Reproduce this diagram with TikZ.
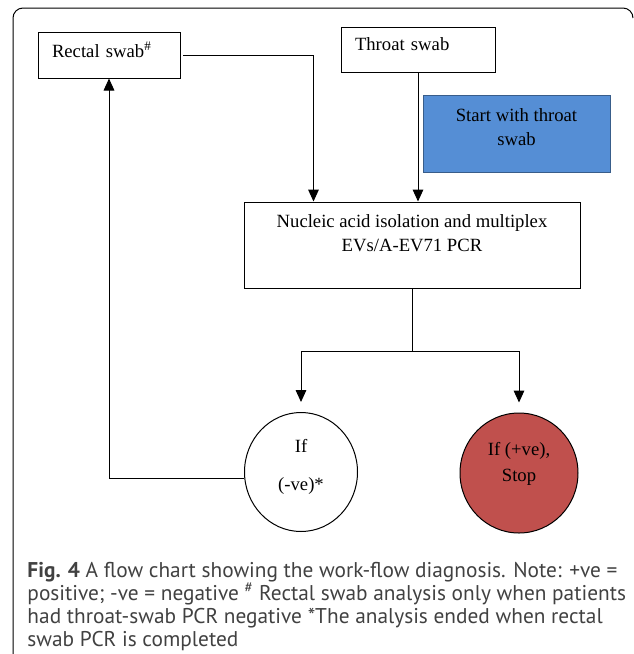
\documentclass[tikz,border=0pt]{standalone}
\usepackage{fontspec}
\setmainfont{Liberation Serif}
\newfontfamily\captionfont{PT Sans}
\usetikzlibrary{arrows.meta,shapes.geometric}

\definecolor{startblue}{RGB}{85,142,213}
\definecolor{startborder}{RGB}{56,93,138}
\definecolor{stopred}{RGB}{192,80,77}
\definecolor{captiongray}{RGB}{65,65,65}

\tikzset{every picture/.style={line width=0.75pt}}
\tikzset{
  flowtext/.style={font=\fontsize{14}{18}\selectfont, inner sep=0pt},
  swabbox/.style={flowtext, draw, rectangle, align=left, inner xsep=10.5pt, text depth=7.5pt},
  stepbox/.style={flowtext, draw, rectangle, align=center},
  resultshape/.style={flowtext, draw, ellipse, align=center},
  flowarrow/.style={-{Triangle[length=9pt,width=8pt]}},
  captiontext/.style={font=\captionfont\fontsize{16}{17.3}\selectfont, text=captiongray, align=left, inner sep=0pt},
}

\begin{document}
\begin{tikzpicture}[x=0.75pt,y=0.75pt,yscale=-1,xscale=1]
            \useasboundingbox (0,0) rectangle (634,654);

            %Shape: Frame [id:frame] 
            \draw  [rounded corners=7.5pt] (13,654) -- (13,8) -- (633,8) -- (633,18) ;

            %Shape: Rectangle [id:rectal] 
            \node [swabbox, minimum width=106.5pt, minimum height=34.5pt, text width=85.5pt] (rectal) at (109,55) {Rectal swab\textsuperscript{\#}};
            %Shape: Rectangle [id:throat] 
            \node [swabbox, minimum width=115.5pt, minimum height=33.75pt, text width=94.5pt] (throat) at (418,49.5) {Throat swab};
            %Shape: Rectangle [id:start] 
            \node [stepbox, draw=startborder, fill=startblue, minimum width=140.25pt, minimum height=57.75pt] (start) at (516.5,133.5) {Start with throat\\swab\\[-8pt]\mbox{}};
            %Shape: Rectangle [id:nucleic] 
            \node [stepbox, minimum width=252pt, minimum height=64.5pt] (nucleic) at (412,245) {Nucleic acid isolation and multiplex\\EVs/A-EV71 PCR\\\mbox{}};
            %Shape: Ellipse [id:neg] 
            \node [resultshape, fill=white, minimum width=84.75pt, minimum height=89.25pt] (neg) at (301,472) {If\\[10.5pt](-ve)*\\[-8pt]\mbox{}};
            %Shape: Ellipse [id:pos] 
            \node [resultshape, fill=stopred, minimum width=88.5pt, minimum height=90pt] (pos) at (519,473) {If (+ve),\\[1.5pt]Stop\\[-1.5pt]\mbox{}};

            %Straight Lines [id:rectal-nucleic] 
            \draw  [flowarrow, shorten <=2pt]  (rectal.east) -| ([xshift=52.5pt]nucleic.north west) ;
            %Straight Lines [id:throat-nucleic] 
            \draw  [flowarrow]  (throat.south) -- (throat.south |- nucleic.north) ;
            %Straight Lines [id:nucleic-split] 
            \path (nucleic.south) ++(0,63) coordinate (split) ;
            \draw  (nucleic.south) -- (split) ;
            %Straight Lines [id:split-neg] 
            \draw  [flowarrow, shorten >=7.5pt]  (split) -| (neg.north) ;
            %Straight Lines [id:split-pos] 
            \draw  [flowarrow, shorten >=7.5pt]  (split) -| (pos.north) ;
            %Straight Lines [id:neg-rectal] 
            \draw  [flowarrow]  ([yshift=4.5pt]neg.west) -| (rectal.south) ;

            % Text Node
            \node [captiontext, anchor=north west] (caption) at (27,562) {\textbf{Fig. 4} A flow chart showing the work-flow diagnosis. Note: +ve =\\positive; -ve = negative \textsuperscript{\#} Rectal swab analysis only when patients\\had throat-swab PCR negative *The analysis ended when rectal\\swab PCR is completed};

\end{tikzpicture}
\end{document}
